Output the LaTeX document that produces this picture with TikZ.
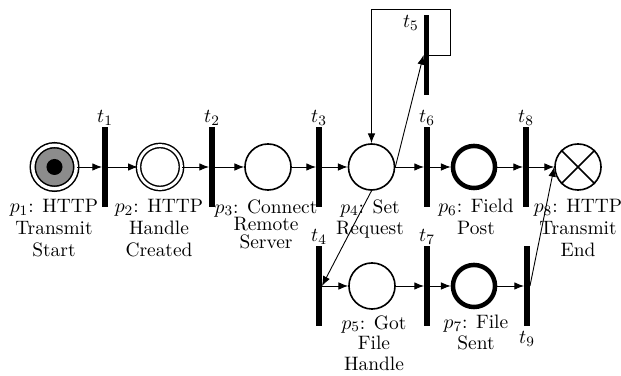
\documentclass[tikz,border=0pt]{standalone}
\usetikzlibrary{arrows.meta,positioning}
\begin{document}
\begin{tikzpicture}[x=0.556pt,y=-0.556pt,
  every node/.style={font=\fontsize{10.8pt}{12.2pt}\selectfont},
  place/.style={circle,draw,line width=0.9pt,minimum size=25.6pt,inner sep=0pt},
  heavyplace/.style={circle,draw,line width=2.5pt,minimum size=23.4pt,inner sep=0pt},
  trans/.style={rectangle,fill=black,minimum width=3.3pt,minimum height=44pt,inner sep=0pt,outer sep=0pt},
  arc/.style={-{Latex[length=5.4pt,width=4.2pt]},line width=0.5pt},
  plab/.style={align=center,inner sep=0pt,anchor=north},
  tlab/.style={inner sep=0pt}]
\useasboundingbox (0,0) rectangle (621,376);

% places
\node[circle,draw,line width=0.85pt,double,double distance=1.9pt,fill=black!45,
      minimum size=24.2pt,inner sep=0pt] (p1) at (54.5,167) {};
\node[circle,fill=black,minimum size=8.9pt,inner sep=0pt] (tok) at (p1) {};
\node[circle,draw,line width=0.8pt,double,double distance=1.6pt,
      minimum size=23.9pt,inner sep=0pt] (p2) at (160,167) {};
\node[place] (p3) at (268,167) {};
\node[place] (p4) at (371.5,167) {};
\node[place] (p5) at (372,286) {};
\node[heavyplace] (p6) at (474,167) {};
\node[heavyplace] (p7) at (474,286) {};
\node[place] (p8) at (578,167) {};
\draw[line width=0.9pt] (p8.45) -- (p8.225) (p8.135) -- (p8.-45);

% transitions
\node[trans] (t1) at (105,167) {};
\node[trans] (t2) at (212,167) {};
\node[trans] (t3) at (319,167) {};
\node[trans] (t4) at (319,286) {};
\node[trans] (t5) at (426.5,55) {};
\node[trans] (t6) at (427,167) {};
\node[trans] (t7) at (427,286) {};
\node[trans] (t8) at (526,167) {};
\node[trans] (t9) at (527,286) {};

% transition labels
\node[tlab,above=1pt of t1] (lt1) {$t_1$};
\node[tlab,above=1pt of t2] (lt2) {$t_2$};
\node[tlab,above=1pt of t3] (lt3) {$t_3$};
\node[tlab,above=1pt of t4] (lt4) {$t_4$};
\node[tlab,anchor=north east] (lt5) at ([xshift=-2.5pt]t5.north west) {$t_5$};
\node[tlab,above=1pt of t6] (lt6) {$t_6$};
\node[tlab,above=1pt of t7] (lt7) {$t_7$};
\node[tlab,above=1pt of t8] (lt8) {$t_8$};
\node[tlab,below=3pt of t9] (lt9) {$t_9$};

% place labels
\node[plab] (lp1) at (54,199) {$p_1$: HTTP\\Transmit\\Start};
\node[plab] (lp2) at (159,199) {$p_2$: HTTP\\Handle\\Created};
\node[plab] (lp3) at (266,199) {$p_3$: Connect\\[-2.3pt]Remote\\[-2.3pt]Server};
\node[plab] (lp4) at (370,199) {$p_4$: Set\\Request};
\node[plab] (lp6) at (476,199) {$p_6$: Field\\Post};
\node[plab] (lp8) at (578,199) {$p_8$: HTTP\\Transmit\\End};
\node[plab] (lp5) at (374,315) {$p_5$: Got\\[-0.6pt]File\\[-0.6pt]Handle};
\node[plab] (lp7) at (476,315) {$p_7$: File\\[-0.6pt]Sent};

% arcs along the main row
\draw[arc] (p1) -- (t1);
\draw[arc] (t1) -- (p2);
\draw[arc] (p2) -- (t2);
\draw[arc] (t2) -- (p3);
\draw[arc] (p3) -- (t3);
\draw[arc] (t3) -- (p4);
\draw[arc] (p4) -- (t6);
\draw[arc] (t6) -- (p6);
\draw[arc] (p6) -- (t8);
\draw[arc] (t8) -- (p8);

% lower row
\draw[arc] (p4.south) -- (t4.east);
\draw[arc] (t4) -- (p5);
\draw[arc] (p5) -- (t7);
\draw[arc] (t7) -- (p7);
\draw[arc] (p7) -- (t9);
\draw[arc] (t9.east) -- (p8.west);

% self loop through t5
\coordinate (corner) at (450,9.5);
\draw[arc] (p4.east) -- (t5.west);
\draw[arc] (t5.east) -| (corner) -| (p4.north);
\end{tikzpicture}
\end{document}
